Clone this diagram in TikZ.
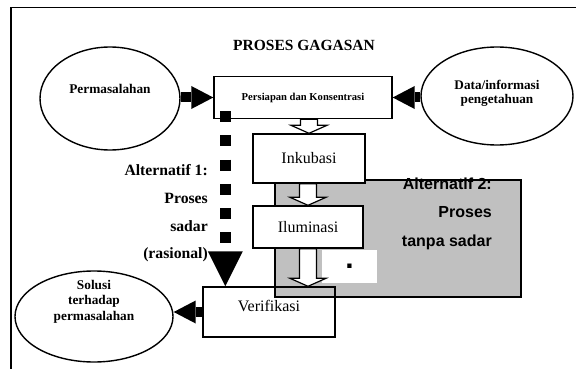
\documentclass[tikz,border=0pt]{standalone}
\usepackage{fontspec}
\setmainfont{Liberation Serif}
\newfontfamily\arialfont{Liberation Sans}
\usetikzlibrary{arrows.meta,calc,shapes.geometric}

\definecolor{abu}{HTML}{C0C0C0}

\tikzset{
  box/.style={draw, line width=1.4pt, fill=white, inner sep=0pt},
  oval/.style={draw, ellipse, line width=1.4pt, inner sep=0pt},
  ovaltext/.style={font=\bfseries\fontsize{13.3pt}{15.5pt}\selectfont, align=center, inner sep=0pt},
  boxtext/.style={font=\fontsize{16pt}{18pt}\selectfont},
  fatarrow/.style={line width=10pt, -{Triangle[length=22pt,width=23pt,line width=0pt]}},
  dotline/.style={line width=11pt, dash pattern=on 11pt off 13.2pt,
    -{Triangle[length=35pt,width=35pt,line width=0pt]}},
  hollow/.style={draw, line width=1.2pt, fill=white, line join=miter},
}

% hollow block arrow, from #1 down to #2
\newcommand{\hollowarrow}[2]{%
  \draw[hollow] ($(#1)+(-8.5,0)$) -- ($(#2)+(-8.5,-8)$) -- ($(#2)+(-18,-8)$) -- (#2)
    -- ($(#2)+(18,-8)$) -- ($(#2)+(8.5,-8)$) -- ($(#1)+(8.5,0)$) -- cycle;}

\begin{document}
\begin{tikzpicture}[x=1pt,y=-1pt]
    \useasboundingbox (0,0) rectangle (576,369);

    % frame
    \draw[line width=1.4pt] (576,7.5) -- (11,7.5) -- (11,369);

    % alternatif 2 area
    \draw[line width=1.4pt, fill=abu] (275,180) rectangle (521,297);
    \node[fill=white, minimum width=55pt, minimum height=33pt, inner sep=0pt,
      font=\arialfont\bfseries\fontsize{30pt}{30pt}\selectfont] (titik) at (349.5,266.5) {.};

    \node[font=\bfseries\fontsize{15.5pt}{18pt}\selectfont] (judul) at (304,45) {PROSES GAGASAN};

    % stages
    \node[box, minimum width=178pt, minimum height=42pt,
      font=\bfseries\fontsize{10.6pt}{12pt}\selectfont] (persiapan) at (303,97.5) {Persiapan dan Konsentrasi};
    \node[box, boxtext, minimum width=112pt, minimum height=49pt] (inkubasi) at (309,158.5) {Inkubasi};
    \node[box, boxtext, minimum width=110pt, minimum height=42pt] (iluminasi) at (308,227) {Iluminasi};
    \node[box, boxtext, fill=none, minimum width=132pt, minimum height=50pt, text depth=12pt] (verifikasi) at (269,312) {Verifikasi};

    % ovals
    \node[oval, minimum width=140pt, minimum height=103pt,
      label={[ovaltext, yshift=9.5pt]center:Permasalahan}] (masalah) at (110,98.5) {};
    \node[oval, minimum width=152pt, minimum height=98pt,
      label={[ovaltext, baseline=0pt, font=\bfseries\fontsize{13.2pt}{14pt}\selectfont, yshift=3pt]center:Data/informasi\\pengetahuan}] (data) at (497,96) {};
    \node[oval, minimum width=158pt, minimum height=91pt,
      label={[ovaltext, yshift=15pt]center:Solusi\\terhadap\\permasalahan}] (solusi) at (94,316.5) {};

    % arrows
    \draw[fatarrow] (masalah.east |- persiapan.west) -- (persiapan.west);
    \draw[fatarrow] (data.west |- persiapan.east) -- (persiapan.east);
    \draw[fatarrow] (verifikasi.west) -- (verifikasi.west -| solusi.east);

    \coordinate (a1) at (inkubasi.north |- persiapan.south);
    \coordinate (a2) at (iluminasi.north |- inkubasi.south);
    \coordinate (a3) at (iluminasi.south |- verifikasi.north);
    \hollowarrow{a1}{inkubasi.north}
    \hollowarrow{a2}{iluminasi.north}
    \hollowarrow{iluminasi.south}{a3}

    \coordinate (dotstart) at ($(persiapan.south west)+(12,-8)$);
    \draw[dotline] (dotstart) -- (dotstart |- verifikasi.north);

    % labels
    \node[anchor=east, align=right, inner sep=0pt,
      font=\bfseries\fontsize{15.7pt}{27.6pt}\selectfont] (alt1) at (208,213.5)
      {Alternatif 1:\\Proses\\sadar\\(rasional)};
    \node[anchor=east, align=right, inner sep=0pt,
      font=\arialfont\bfseries\fontsize{16pt}{28.5pt}\selectfont] (alt2) at (492,213.5)
      {Alternatif 2:\\Proses\\tanpa sadar};
\end{tikzpicture}
\end{document}
